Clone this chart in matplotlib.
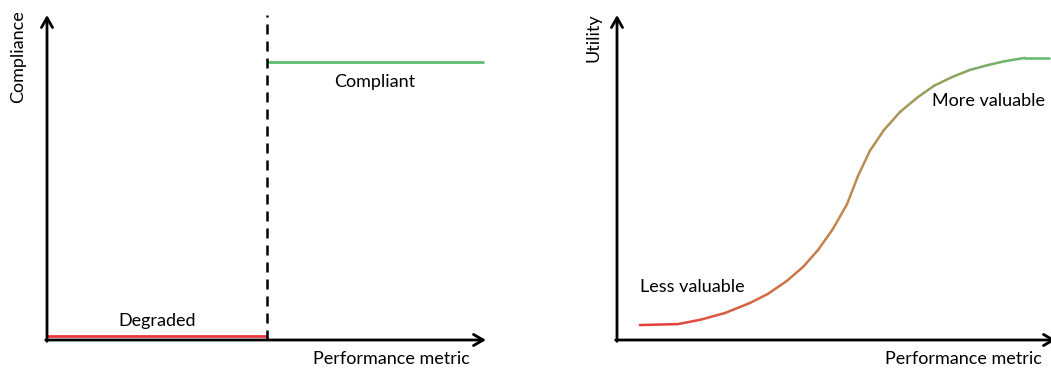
import numpy as np
import matplotlib
matplotlib.use("Agg")
import matplotlib.pyplot as plt
from matplotlib.collections import LineCollection
from matplotlib.colors import LinearSegmentedColormap

# ---- data ----
threshold = 5.0
x_max_line = 9.95
degraded_level = 0.012
compliant_level = 0.855
left_labels = ["Degraded", "Compliant"]

curve_x = [0.52, 1.39, 1.89, 2.46, 3.03, 3.44, 3.87, 4.24, 4.58, 4.92, 5.24,
           5.49, 5.76, 6.08, 6.45, 6.86, 7.22, 7.63, 8.04, 8.45, 8.84, 9.29, 9.84]
curve_y = [0.046, 0.049, 0.062, 0.083, 0.114, 0.142, 0.182, 0.225, 0.277, 0.342, 0.418,
           0.505, 0.582, 0.646, 0.702, 0.748, 0.782, 0.809, 0.831, 0.846, 0.858, 0.868, 0.868]
right_labels = ["Less valuable", "More valuable"]

RED = "#ea363b"
MID = "#c28a4e"
GREEN = "#5cbc70"
FONT = "Lato"
FS = 13

W, H = 1051, 372
fig = plt.figure(figsize=(W / 100, H / 100), dpi=100)

def make_axes(left_px):
    ax = fig.add_axes([left_px / W, (H - 340) / H, 439 / W, 325 / H])
    ax.set_xlim(0, 10)
    ax.set_ylim(0, 1)
    for s in ax.spines.values():
        s.set_visible(False)
    ax.set_xticks([])
    ax.set_yticks([])
    ax.patch.set_alpha(0)
    style = "->,head_length=0.7,head_width=0.4"
    ax.annotate("", xy=(0, 1.0), xytext=(0, -0.004), xycoords="axes fraction",
                arrowprops=dict(arrowstyle=style, lw=2.0, color="black",
                                shrinkA=0, shrinkB=0),
                annotation_clip=False)
    ax.annotate("", xy=(1.0, 0), xytext=(-0.003, 0), xycoords="axes fraction",
                arrowprops=dict(arrowstyle=style, lw=2.0, color="black",
                                shrinkA=0, shrinkB=0),
                annotation_clip=False)
    return ax

# ---- left panel ----
axL = make_axes(47)
axL.plot([0, threshold], [degraded_level, degraded_level], color=RED, lw=2.0,
         solid_capstyle="butt")
axL.plot([threshold, x_max_line], [compliant_level, compliant_level], color=GREEN,
         lw=2.0, solid_capstyle="butt")
axL.plot([threshold, threshold], [0, 1.0], color="black", lw=1.8,
         ls=(0, (4.0, 2.8)))
axL.text(threshold / 2, 0.058, left_labels[0], ha="center", va="center",
         fontsize=FS, family=FONT)
axL.text((threshold + x_max_line) / 2, 0.794, left_labels[1], ha="center",
         va="center", fontsize=FS, family=FONT)
axL.text(1.0 - 16 / 439, -0.035, "Performance metric", transform=axL.transAxes,
         ha="right", va="top", fontsize=FS, family=FONT)
axL.text(-0.066, 1.014, "Compliance", transform=axL.transAxes, ha="center",
         va="top", rotation=90, fontsize=FS, family=FONT)

# ---- right panel ----
axR = make_axes(617)
xs = np.array(curve_x)
ys = np.array(curve_y)
pts = np.column_stack([xs, ys]).reshape(-1, 1, 2)
segs = np.concatenate([pts[:-1], pts[1:]], axis=1)
cmap = LinearSegmentedColormap.from_list("rg", [RED, MID, GREEN])
tm = (xs[:-1] + xs[1:]) / 2
t = (tm - xs[0]) / (xs[-1] - xs[0])
lc = LineCollection(segs, colors=cmap(t), linewidths=1.8, capstyle="round",
                    joinstyle="round")
axR.add_collection(lc)
axR.text(0.52, 0.163, right_labels[0], ha="left", va="center", fontsize=FS,
         family=FONT)
axR.text(7.18, 0.735, right_labels[1], ha="left", va="center", fontsize=FS,
         family=FONT)
axR.text(1.0 - 14 / 439, -0.035, "Performance metric", transform=axR.transAxes,
         ha="right", va="top", fontsize=FS, family=FONT)
axR.text(-0.054, 1.006, "Utility", transform=axR.transAxes, ha="center",
         va="top", rotation=90, fontsize=FS, family=FONT)

fig.savefig("out.png", dpi=100)
